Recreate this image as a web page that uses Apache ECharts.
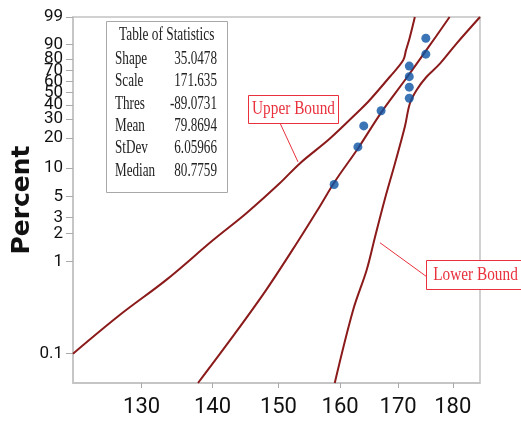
<!DOCTYPE html>
<html>
<head>
<meta charset="utf-8">
<script src="https://cdn.jsdelivr.net/npm/echarts@6/dist/echarts.min.js"></script>
<style>
html, body { margin: 0; padding: 0; background: #fff; }
#chart { width: 521px; height: 421px; }
</style>
</head>
<body>
<div id="chart"></div>
<script>
// axis ticks
var xTicks = [130, 140, 150, 160, 170, 180]
var yTicks = [0.1, 1, 2, 3, 5, 10, 20, 30, 40, 50, 60, 70, 80, 90, 99]

// observed points (value, percent)
var pointX = [159, 163, 164, 167, 172, 172, 172, 172, 175, 175]
var pointPct = [6.7, 16.3, 26.0, 35.6, 45.2, 54.8, 64.4, 74.0, 83.7, 93.3]

// fitted line
var fitX = [137.9, 143.1, 148.1, 152.9, 156.6, 159.1, 163.0, 167.1, 171.2, 173.9, 177.0, 179.4]
var fitPct = [0.048, 0.157, 0.494, 1.58, 3.9, 7.16, 15.7, 34.8, 61.1, 79.7, 94.5, 99]

// upper bound
var upperX = [121.0, 127.1, 133.4, 140.1, 145.1, 150.2, 153.4, 158.3, 163.3, 165.0, 168.5, 170.9, 171.4, 172.1, 173.0]
var upperPct = [0.1, 0.265, 0.634, 1.71, 3.34, 6.89, 11.1, 19.7, 36.0, 43.6, 64.1, 78.9, 86.4, 93.8, 99]

// lower bound
var lowerX = [159.1, 162.2, 164.5, 165.9, 167.7, 169.4, 171.2, 172.1, 173.3, 175.1, 177.6, 180.7, 185.2]
var lowerPct = [0.048, 0.30, 0.81, 1.80, 4.79, 10.9, 25.5, 41.0, 52.1, 64.1, 76.1, 90.6, 99]

// table of statistics
var statNames = ['Shape', 'Scale', 'Thres', 'Mean', 'StDev', 'Median']
var statValues = ['35.0478', '171.635', '-89.0731', '79.8694', '6.05966', '80.7759']

// where the callout leaders touch the bounds (value, percent)
var upperNote = [153.1, 11.5]
var lowerNote = [166.8, 1.6]

// weibull probability scale
function wb(p) { return Math.log(-Math.log(1 - p / 100)) }
function unwb(w) { return 100 * (1 - Math.exp(-Math.exp(w))) }
function pairs(xs, ps) { return xs.map(function (x, i) { return [x, wb(ps[i])] }) }

var axisGray = '#c2c2c2'
var curveColor = '#8b1a1a'
var noteRed = '#e8313c'

function curve(data) {
  return {
    type: 'line', data: data, smooth: 0.35, symbol: 'none',
    lineStyle: { color: curveColor, width: 2 }
  }
}

var chart = echarts.init(document.getElementById('chart'))
chart.setOption({
  animation: false,
  grid: { left: 73, right: 41, top: 17, bottom: 38, show: true, borderColor: axisGray, borderWidth: 1.5 },
  xAxis: {
    type: 'log',
    logBase: 10,
    min: 121,
    max: 185.2,
    axisLine: { onZero: false, lineStyle: { color: axisGray, width: 1.5 } },
    axisTick: { customValues: xTicks, length: 5, lineStyle: { color: '#aaa' } },
    axisLabel: {
      customValues: xTicks,
      margin: 13,
      fontSize: 22,
      fontFamily: 'Roboto',
      color: '#111'
    },
    splitLine: { show: false },
    minorTick: { show: false }
  },
  yAxis: {
    type: 'value',
    min: wb(0.048),
    max: wb(99),
    name: 'Percent',
    nameLocation: 'middle',
    nameRotate: 90,
    nameGap: 38,
    nameMoveOverlap: false,
    nameTextStyle: { fontFamily: 'DejaVu Sans', fontWeight: 'bold', fontSize: 25, color: '#111' },
    axisLine: { show: true, onZero: false, lineStyle: { color: axisGray, width: 1.5 } },
    axisTick: { show: true, customValues: yTicks.map(wb), length: 7, lineStyle: { color: '#aaa' } },
    axisLabel: {
      customValues: yTicks.map(wb),
      margin: 10,
      fontSize: 17,
      fontFamily: 'Roboto',
      color: '#111',
      formatter: function (v) {
        var p = unwb(v)
        return p < 1 ? p.toFixed(1) : String(Math.round(p))
      }
    },
    splitLine: { show: false }
  },
  series: [
    curve(pairs(upperX, upperPct)),
    curve(pairs(fitX, fitPct)),
    curve(pairs(lowerX, lowerPct)),
    { type: 'scatter', data: pairs(pointX, pointPct), symbolSize: 9, itemStyle: { color: '#0a52a3' }, z: 5 }
  ]
})

var tipU = chart.convertToPixel({ gridIndex: 0 }, [upperNote[0], wb(upperNote[1])])
var tipL = chart.convertToPixel({ gridIndex: 0 }, [lowerNote[0], wb(lowerNote[1])])

var serif = '"Liberation Serif", "Times New Roman", serif'
var graphics = [
  { type: 'rect', shape: { x: 106.5, y: 21.5, width: 121, height: 171 }, style: { fill: '#fff', stroke: '#a8a8a8', lineWidth: 1 }, z: 10 },
  { type: 'text', x: 166.7, y: 35.7, scaleX: 0.74, style: { text: 'Table of Statistics', fontSize: 18, fontFamily: serif, fill: '#222', align: 'center', verticalAlign: 'middle' }, z: 11 }
]
statNames.forEach(function (name, i) {
  var y = 59.3 + i * 22.3
  graphics.push({ type: 'text', x: 115, y: y, scaleX: 0.73, style: { text: name, fontSize: 18, fontFamily: serif, fill: '#222', align: 'left', verticalAlign: 'middle' }, z: 11 })
  graphics.push({ type: 'text', x: 217, y: y, scaleX: 0.73, style: { text: statValues[i], fontSize: 18, fontFamily: serif, fill: '#222', align: 'right', verticalAlign: 'middle' }, z: 11 })
})

// callouts
graphics.push(
  { type: 'line', shape: { x1: tipU[0], y1: tipU[1], x2: 280, y2: 123 }, style: { stroke: noteRed, lineWidth: 1 }, z: 10 },
  { type: 'rect', shape: { x: 248.5, y: 95.5, width: 90, height: 28 }, style: { fill: '#fff', stroke: noteRed, lineWidth: 1 }, z: 10 },
  { type: 'text', x: 293.5, y: 109.5, scaleX: 0.85, style: { text: 'Upper Bound', fontSize: 18, fontFamily: serif, fill: noteRed, align: 'center', verticalAlign: 'middle' }, z: 11 },
  { type: 'line', shape: { x1: tipL[0], y1: tipL[1], x2: 426.7, y2: 276.7 }, style: { stroke: noteRed, lineWidth: 1 }, z: 10 },
  { type: 'rect', shape: { x: 426.5, y: 260.5, width: 100, height: 29 }, style: { fill: '#fff', stroke: noteRed, lineWidth: 1 }, z: 10 },
  { type: 'text', x: 475.5, y: 275, scaleX: 0.85, style: { text: 'Lower Bound', fontSize: 18, fontFamily: serif, fill: noteRed, align: 'center', verticalAlign: 'middle' }, z: 11 }
)
chart.setOption({ graphic: graphics })
</script>
</body>
</html>
